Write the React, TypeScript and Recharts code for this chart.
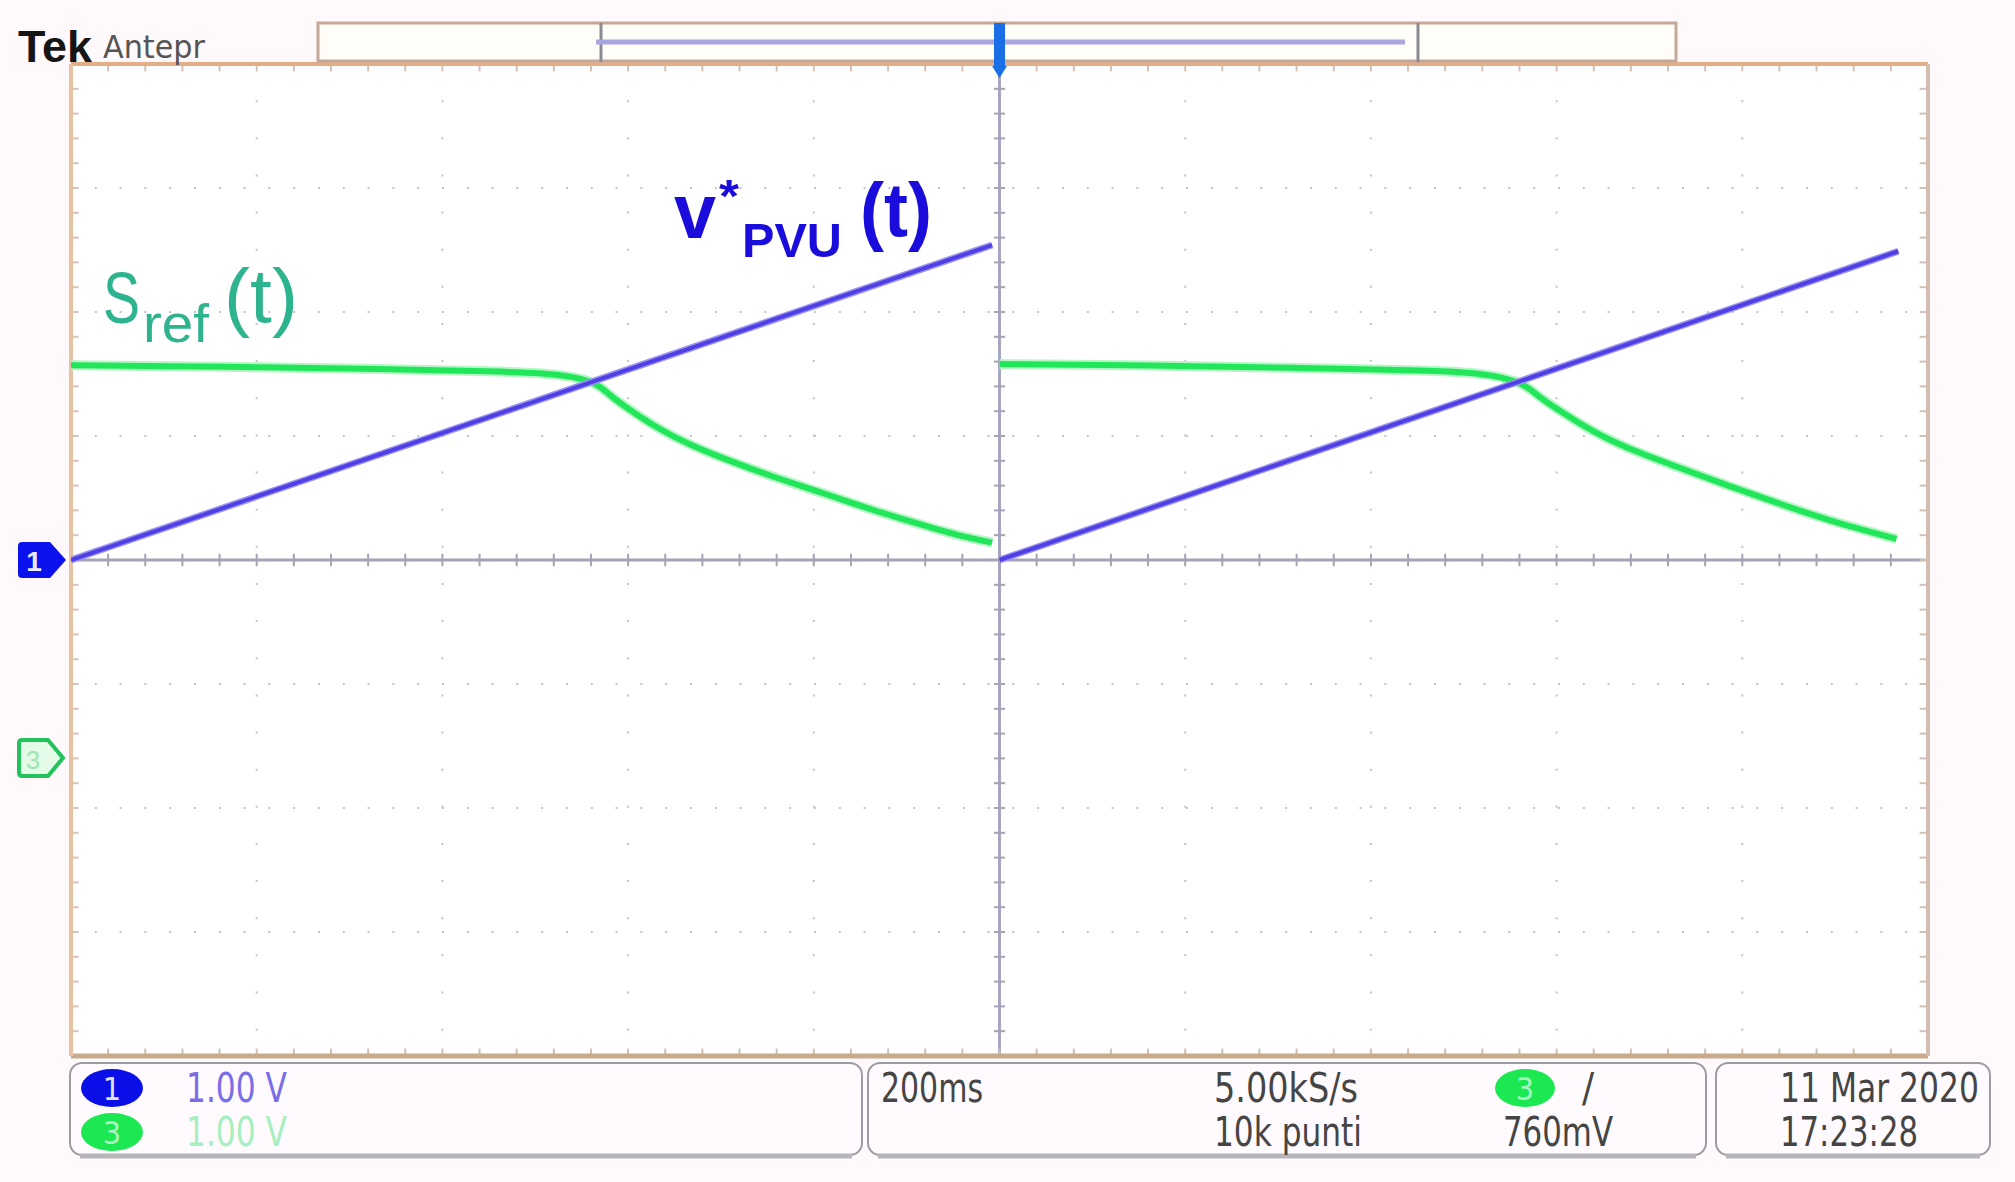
import { LineChart, Line, XAxis, YAxis, CartesianGrid, ReferenceLine } from 'recharts'

const W = 2015
const H = 1182
const MARGIN = { top: 64, right: 87, bottom: 126, left: 71 }

// time axis in divisions (200 ms/div), amplitudes in screen divisions (1.00 V/div)
const BLUE_T = [0, 4.96, 4.98, 5.0, 9.84]
const BLUE_V = [0, 2.54, null, 0, 2.49]

const GREEN_T = [0, 0.8, 1.7, 2.3, 2.53, 2.7, 2.83, 2.9, 2.99, 3.16, 3.33, 3.51, 3.78, 4.05, 4.32, 4.59, 4.77, 4.96, 4.98, 5.0, 5.8, 6.6, 7.2, 7.48, 7.66, 7.82, 7.9, 8.02, 8.2, 8.38, 8.65, 8.92, 9.19, 9.46, 9.83]
const GREEN_V = [1.57, 1.56, 1.54, 1.52, 1.51, 1.48, 1.43, 1.33, 1.23, 1.06, 0.93, 0.82, 0.67, 0.54, 0.4, 0.28, 0.2, 0.14, null, 1.58, 1.57, 1.55, 1.53, 1.52, 1.49, 1.43, 1.32, 1.2, 1.03, 0.9, 0.75, 0.6, 0.46, 0.32, 0.17]

const X_DIVS = [1, 2, 3, 4, 6, 7, 8, 9]
const Y_DIVS = [-3, -2, -1, 1, 2, 3]

const zip = (t: number[], v: (number | null)[]) => t.map((x, i) => ({ t: x, v: v[i] }))
const blueData = zip(BLUE_T, BLUE_V)
const greenData = zip(GREEN_T, GREEN_V)

// graticule minor ticks, every 0.2 div
const xMinor = Array.from({ length: 49 }, (_, i) => +(0.2 * (i + 1)).toFixed(2))
const yMinor = Array.from({ length: 39 }, (_, i) => +(-3.8 + 0.2 * i).toFixed(2))

const NARROW = '"Liberation Sans Narrow", "DejaVu Sans Condensed", "Liberation Sans", sans-serif'
const SANS = '"Liberation Sans", Arial, sans-serif'

function Overlay() {
  return (
    <svg width={W} height={H} style={{ position: 'absolute', left: 0, top: 0, pointerEvents: 'none' }}>
      {/* header */}
      <text x={18} y={62} fontFamily={SANS} fontWeight="bold" fontSize={44} textLength={74} lengthAdjust="spacingAndGlyphs" fill="#151515">Tek</text>
      <text x={103} y={58} fontFamily={NARROW} fontSize={32} textLength={102} lengthAdjust="spacingAndGlyphs" fill="#555">Antepr</text>
      <rect x={318} y={23} width={1358} height={38} fill="#fffdf8" stroke="#c4a898" strokeWidth={3} />
      <line x1={601} y1={23} x2={601} y2={62} stroke="#8a8a92" strokeWidth={3} />
      <line x1={1418} y1={23} x2={1418} y2={62} stroke="#8a8a92" strokeWidth={3} />
      <line x1={596} y1={42} x2={1405} y2={42} stroke="#a9a6e2" strokeWidth={5} />
      <rect x={994} y={23} width={11} height={44} fill="#1a6ee6" />
      <polygon points="992,66 1007,66 999.5,78" fill="#1a6ee6" />

      {/* channel ground markers */}
      <path d="M22,542 H50 L66,560 L50,578 H22 Q18,578 18,574 V546 Q18,542 22,542 Z" fill="#0c12ee" />
      <text x={34} y={571} fontFamily={SANS} fontWeight="bold" fontSize={28} fill="#e8e8ff" textAnchor="middle">1</text>
      <path d="M22,740 H48 L63,758 L48,776 H22 Q19,776 19,773 V743 Q19,740 22,740 Z" fill="#e4fbe8" stroke="#22c25c" strokeWidth={4} />
      <text x={33} y={769} fontFamily={SANS} fontSize={26} fill="#9ee6b4" textAnchor="middle">3</text>

      {/* trace labels */}
      <g fontFamily={SANS} fontWeight="bold" fill="#1a0ddc">
        <text x={674} y={238} fontSize={78} textLength={42} lengthAdjust="spacingAndGlyphs">v</text>
        <text x={719} y={212} fontSize={46} textLength={20} lengthAdjust="spacingAndGlyphs">*</text>
        <text x={742} y={257} fontSize={48} textLength={100} lengthAdjust="spacingAndGlyphs">PVU</text>
        <text x={860} y={236} fontSize={76} textLength={72} lengthAdjust="spacingAndGlyphs">(t)</text>
      </g>
      <g fontFamily={SANS} fill="#2db38e">
        <text x={103} y={323} fontSize={72} textLength={37} lengthAdjust="spacingAndGlyphs">S</text>
        <text x={143} y={342} fontSize={54} textLength={66} lengthAdjust="spacingAndGlyphs">ref</text>
        <text x={224} y={322} fontSize={76} textLength={74} lengthAdjust="spacingAndGlyphs">(t)</text>
      </g>

      {/* status panels */}
      <g fill="#fffafd" stroke="#9c9ca4" strokeWidth={2}>
        <rect x={70} y={1063} width={792} height={92} rx={12} />
        <rect x={868} y={1063} width={838} height={92} rx={12} />
        <rect x={1716} y={1063} width={274} height={92} rx={12} />
      </g>
      <g stroke="#b6b6ba" strokeWidth={5}>
        <line x1={80} y1={1156} x2={852} y2={1156} />
        <line x1={878} y1={1156} x2={1696} y2={1156} />
        <line x1={1726} y1={1156} x2={1980} y2={1156} />
      </g>
      <ellipse cx={112} cy={1088} rx={31} ry={19} fill="#0a0fe8" />
      <text x={112} y={1100} fontFamily={NARROW} fontSize={32} fill="#e0e0ff" textAnchor="middle">1</text>
      <ellipse cx={112} cy={1132} rx={31} ry={19} fill="#1ce852" />
      <text x={112} y={1144} fontFamily={NARROW} fontSize={32} fill="#a8f5c0" textAnchor="middle">3</text>
      <g fontFamily={NARROW} fontSize={40}>
        <text x={186} y={1102} textLength={101} lengthAdjust="spacingAndGlyphs" fill="#7a6ee8">1.00 V</text>
        <text x={186} y={1146} textLength={101} lengthAdjust="spacingAndGlyphs" fill="#a6efc0">1.00 V</text>
        <text x={881} y={1102} textLength={102} lengthAdjust="spacingAndGlyphs" fill="#454545">200ms</text>
        <text x={1214} y={1102} textLength={144} lengthAdjust="spacingAndGlyphs" fill="#454545">5.00kS/s</text>
        <text x={1214} y={1146} textLength={148} lengthAdjust="spacingAndGlyphs" fill="#454545">10k punti</text>
        <text x={1582} y={1102} fill="#454545">/</text>
        <text x={1503} y={1146} textLength={110} lengthAdjust="spacingAndGlyphs" fill="#454545">760mV</text>
        <text x={1780} y={1102} textLength={199} lengthAdjust="spacingAndGlyphs" fill="#454545">11 Mar  2020</text>
        <text x={1780} y={1146} textLength={138} lengthAdjust="spacingAndGlyphs" fill="#454545">17:23:28</text>
      </g>
      <ellipse cx={1525} cy={1088} rx={30} ry={19} fill="#1ce852" />
      <text x={1525} y={1100} fontFamily={NARROW} fontSize={32} fill="#a8f5c0" textAnchor="middle">3</text>
    </svg>
  )
}

export default function App() {
  return (
    <div style={{ position: 'absolute', left: 0, top: 0, width: W, height: H, background: '#fff9fc' }}>
      <LineChart width={W} height={H} margin={MARGIN}>
        <XAxis dataKey="t" type="number" domain={[0, 10]} allowDataOverflow hide />
        <YAxis type="number" domain={[-4, 4]} allowDataOverflow hide />
        <CartesianGrid horizontal={false} verticalValues={X_DIVS} stroke="#c4c4cc" strokeWidth={2} strokeDasharray="2 35.14" strokeDashoffset={1} fill="#ffffff" />
        <CartesianGrid vertical={false} horizontalValues={Y_DIVS} stroke="#c4c4cc" strokeWidth={2} strokeDasharray="2 22.8" strokeDashoffset={1} />

        {/* centre crosshair */}
        <ReferenceLine y={0} stroke="#a4a4b4" strokeWidth={3} />
        <ReferenceLine x={5} stroke="#a4a6c4" strokeWidth={3} />
        {xMinor.map(x => (
          <ReferenceLine key={`cx${x}`} segment={[{ x, y: -0.05 }, { x, y: 0.05 }]} stroke="#a4a4b4" strokeWidth={2} />
        ))}
        {yMinor.map(y => (
          <ReferenceLine key={`cy${y}`} segment={[{ x: 4.97, y }, { x: 5.03, y }]} stroke="#a4a4b4" strokeWidth={2} />
        ))}

        {/* frame */}
        {xMinor.map(x => (
          <ReferenceLine key={`tx${x}`} segment={[{ x, y: 4 }, { x, y: 3.94 }]} stroke="#d8c0b4" strokeWidth={2} />
        ))}
        {xMinor.map(x => (
          <ReferenceLine key={`bx${x}`} segment={[{ x, y: -4 }, { x, y: -3.94 }]} stroke="#d0c0b0" strokeWidth={2} />
        ))}
        {yMinor.map(y => (
          <ReferenceLine key={`ly${y}`} segment={[{ x: 0, y }, { x: 0.04, y }]} stroke="#d8c0b4" strokeWidth={2} />
        ))}
        {yMinor.map(y => (
          <ReferenceLine key={`ry${y}`} segment={[{ x: 10, y }, { x: 9.955, y }]} stroke="#d0c0b8" strokeWidth={2} />
        ))}
        <ReferenceLine y={4} stroke="#e2ae88" strokeWidth={4} />
        <ReferenceLine y={-4} stroke="#c8aa8c" strokeWidth={5} />
        <ReferenceLine x={0} stroke="#e6c2a2" strokeWidth={4} />
        <ReferenceLine x={10} stroke="#d4bcae" strokeWidth={4} />

        {/* traces */}
        <Line data={greenData} dataKey="v" type="basis" stroke="#b6f5c6" strokeWidth={10} dot={false} connectNulls={false} isAnimationActive={false} />
        <Line data={greenData} dataKey="v" type="basis" stroke="#22e65a" strokeWidth={6} dot={false} connectNulls={false} isAnimationActive={false} />
        <Line data={blueData} dataKey="v" type="linear" stroke="#9c92f2" strokeWidth={7} dot={false} connectNulls={false} isAnimationActive={false} />
        <Line data={blueData} dataKey="v" type="linear" stroke="#4e40e4" strokeWidth={4} dot={false} connectNulls={false} isAnimationActive={false} />
      </LineChart>
      <Overlay />
    </div>
  )
}
